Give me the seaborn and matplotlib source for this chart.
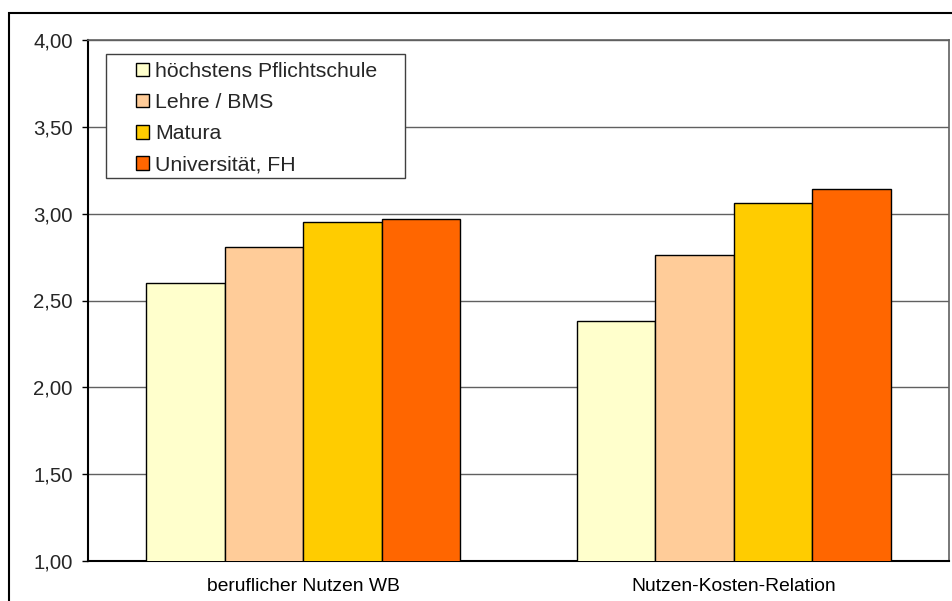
import matplotlib
matplotlib.use("Agg")
import matplotlib.pyplot as plt
from matplotlib.patches import Rectangle
from matplotlib.ticker import FuncFormatter, FixedLocator
import seaborn as sns
import pandas as pd

categories = ["beruflicher Nutzen WB", "Nutzen-Kosten-Relation"]
groups = ["höchstens Pflichtschule", "Lehre / BMS", "Matura", "Universität, FH"]
values_nutzen = [2.60, 2.81, 2.95, 2.97]
values_relation = [2.38, 2.76, 3.06, 3.14]
colors = ["#FFFFCC", "#FFCC99", "#FFCC00", "#FF6600"]

rows = []
for g, a, b in zip(groups, values_nutzen, values_relation):
    rows.append({"Kategorie": categories[0], "Bildung": g, "Wert": a})
    rows.append({"Kategorie": categories[1], "Bildung": g, "Wert": b})
df = pd.DataFrame(rows)

sns.set_style("white")
plt.rcParams["font.family"] = ["Liberation Sans", "DejaVu Sans"]

W, H = 952, 601
fig = plt.figure(figsize=(W / 100, H / 100), dpi=100)
ax = fig.add_axes([88 / W, 1 - 561 / H, (949 - 88) / W, (561 - 40) / H])

sns.barplot(data=df, x="Kategorie", y="Wert", hue="Bildung", order=categories,
            hue_order=groups, palette=colors, width=0.73, gap=0,
            edgecolor="black", linewidth=1.0, saturation=1, ax=ax, zorder=3)

ax.set_ylim(1.0, 4.0)
ax.set_xlim(-0.5, 1.5)
ax.set_yticks([1.0, 1.5, 2.0, 2.5, 3.0, 3.5, 4.0])
ax.yaxis.set_major_formatter(FuncFormatter(lambda v, _: f"{v:.2f}".replace(".", ",")))
ax.yaxis.grid(True, color="#606060", linewidth=1.0, zorder=0)
ax.set_axisbelow(True)

ax.set_xlabel("")
ax.set_ylabel("")
ax.xaxis.set_minor_locator(FixedLocator([-0.5, 0.5, 1.5]))
ax.tick_params(axis="x", which="major", length=0, pad=12, labelsize=13.9, colors="black")
ax.tick_params(axis="x", which="minor", length=4, width=1, color="black", direction="out")
ax.tick_params(axis="y", which="major", length=4, width=1, color="black", direction="out",
               pad=7, labelsize=14.7, left=True)

for side in ["left", "bottom"]:
    ax.spines[side].set_color("black")
    ax.spines[side].set_linewidth(1.5)
for side in ["top", "right"]:
    ax.spines[side].set_color("#606060")
    ax.spines[side].set_linewidth(1.2)

# legend entries without their own frame; the box is drawn separately
leg = ax.legend(loc="upper left", bbox_to_anchor=(136 / W, 1 - 62 / H),
                bbox_transform=fig.transFigure, fontsize=15.3, frameon=False,
                handlelength=0.61, handleheight=0.61, handletextpad=0.28,
                labelspacing=0.57, borderpad=0, borderaxespad=0, title=None)
for h in leg.legend_handles:
    h.set_edgecolor("black")
    h.set_linewidth(1.0)
leg.remove()

fig.patches.append(Rectangle((106 / W, 1 - 178 / H), (405 - 106) / W, (178 - 54) / H,
                             transform=fig.transFigure, facecolor="white",
                             edgecolor="#404040", linewidth=1.0, zorder=4))
fig.add_artist(leg)
leg.set_zorder(6)

# outer chart frame
fig.patches.append(Rectangle((9 / W, -0.2), 1.2, 1 - 13 / H + 0.2,
                             transform=fig.transFigure, fill=False,
                             edgecolor="black", linewidth=1.5))

fig.savefig("out.png", dpi=100)
